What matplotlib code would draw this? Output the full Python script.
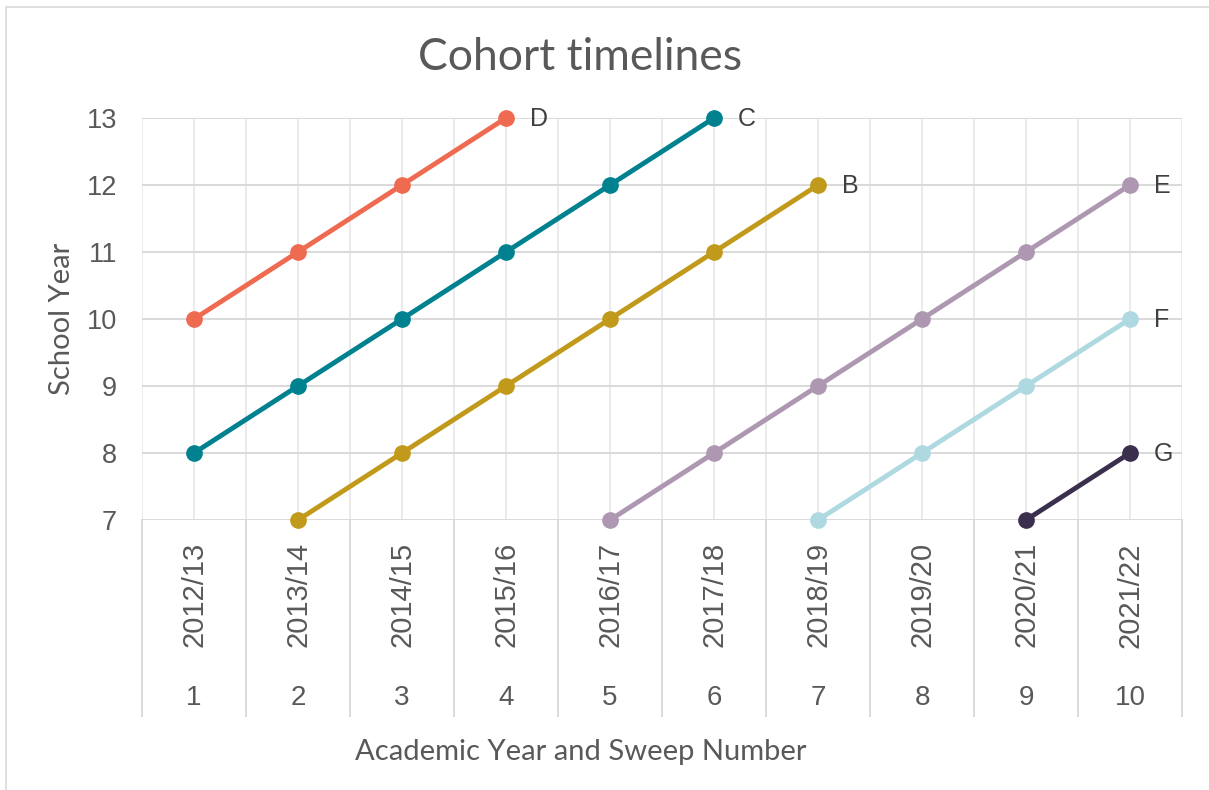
import matplotlib.pyplot as plt
import numpy as np
from matplotlib.patches import Rectangle

# categories on the x axis (two levels: academic year + sweep number)
academic_years = ['2012/13', '2013/14', '2014/15', '2015/16', '2016/17',
                  '2017/18', '2018/19', '2019/20', '2020/21', '2021/22']
sweep_numbers = [1, 2, 3, 4, 5, 6, 7, 8, 9, 10]

# school year of each cohort at every sweep (None = not in study)
cohort_d = [10, 11, 12, 13, None, None, None, None, None, None]
cohort_c = [8, 9, 10, 11, 12, 13, None, None, None, None]
cohort_b = [None, 7, 8, 9, 10, 11, 12, None, None, None]
cohort_e = [None, None, None, None, 7, 8, 9, 10, 11, 12]
cohort_f = [None, None, None, None, None, None, 7, 8, 9, 10]
cohort_g = [None, None, None, None, None, None, None, None, 7, 8]

cohort_names = ['D', 'C', 'B', 'E', 'F', 'G']
cohort_colors = ['#EE6A50', '#00818F', '#C19A1B', '#AD97B1', '#AED9E0', '#3B2F4E']
cohorts = [cohort_d, cohort_c, cohort_b, cohort_e, cohort_f, cohort_g]

W, H = 1209, 790
fig = plt.figure(figsize=(W / 100, H / 100), dpi=100)
ax = fig.add_axes([142 / W, 1 - 520 / H, (1182 - 142) / W, (520 - 118) / H])

tick_font = 'Liberation Sans'
label_font = 'Lato'
text_grey = '#595959'

x = np.array(sweep_numbers)
for name, color, vals in zip(cohort_names, cohort_colors, cohorts):
    y = np.array([np.nan if v is None else v for v in vals], dtype=float)
    ax.plot(x, y, color=color, lw=3.5, marker='o', ms=11, zorder=3, clip_on=False)
    last = np.where(~np.isnan(y))[0][-1]
    ax.annotate(name, (x[last], y[last]), xytext=(17, -1), textcoords='offset points',
                ha='left', va='center', fontsize=18, family=tick_font, color='#404040')

ax.set_xlim(0.5, 10.5)
ax.set_ylim(7, 13)
ax.set_yticks(range(7, 14))

# gridlines: horizontal at each school year, vertical at centres and boundaries
for yv in range(7, 14):
    ax.axhline(yv, color='#D9D9D9', lw=1.4, zorder=1)
for xv in np.arange(0.5, 10.6, 0.5):
    ax.axvline(xv, color='#EBEBEB', lw=1.4, zorder=0.5)

for s in ax.spines.values():
    s.set_visible(False)

ax.set_xticks(x)
ax.set_xticklabels(academic_years, rotation=90, fontsize=21, family=tick_font, color=text_grey)
ax.tick_params(axis='x', length=0, pad=16)
ax.tick_params(axis='y', length=0, pad=18, labelsize=19.5, labelcolor=text_grey)
for lab in ax.get_yticklabels():
    lab.set_family(tick_font)

# second category level and separators below the axis
trans = ax.get_xaxis_transform()
for sx, num in zip(x, sweep_numbers):
    ax.text(sx, -0.4428, str(num), transform=trans, ha='center', va='center',
            fontsize=20, family=tick_font, color=text_grey)
for xv in np.arange(0.5, 10.6, 1.0):
    ax.plot([xv, xv], [0, -0.4876], transform=trans, color='#D9D9D9', lw=1.4, clip_on=False)

fig.text(580 / W, 1 - 70 / H, 'Cohort timelines', ha='center', va='baseline',
         fontsize=32, family=label_font, color=text_grey)
fig.text(581 / W, 1 - 760 / H, 'Academic Year and Sweep Number', ha='center', va='baseline',
         fontsize=21, family=label_font, color=text_grey)
fig.text(62 / W, 1 - 319 / H, 'School Year', ha='center', va='center', rotation=90,
         fontsize=21, family=label_font, color=text_grey)

# light chart border
fig.patches.append(Rectangle((6 / W, -0.05), 1.1, 1 - 7 / H + 0.05, transform=fig.transFigure,
                             fill=False, edgecolor='#D9D9D9', lw=1.2))

fig.savefig('out.png', dpi=100)
